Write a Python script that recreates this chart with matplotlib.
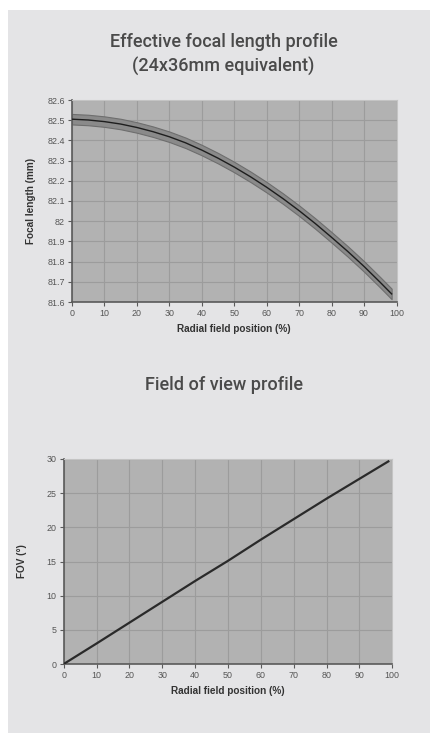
"""Effective focal length and field-of-view profiles across the radial field."""

import matplotlib.pyplot as plt
import numpy as np
from matplotlib import patches
from matplotlib.ticker import FuncFormatter

# focal length profile (24x36mm equivalent)
FIELD_POS = [0, 5, 10, 15, 20, 25, 30, 35, 40, 45, 50, 55, 60, 65, 70, 75, 80, 85, 90, 95, 98.5]
FOCAL_MM = [82.505, 82.501, 82.493, 82.481, 82.464, 82.443, 82.418, 82.388, 82.352, 82.312,
            82.268, 82.220, 82.168, 82.112, 82.052, 81.988, 81.920, 81.850, 81.776, 81.697, 81.640]
FOCAL_SPREAD = 0.026

# field of view profile
FOV_POS = [0, 10, 20, 30, 40, 50, 60, 70, 80, 90, 98.8]
FOV_DEG = [0.0, 3.0, 6.05, 9.1, 12.15, 15.1, 18.2, 21.2, 24.2, 27.1, 29.65]

PANEL_BG = "#E4E4E6"
PLOT_BG = "#B2B2B2"
GRID = "#9C9C9C"
TITLE_COLOR = "#4A4A4A"
TICK_COLOR = "#555555"


def _style_axes(ax, ylim, yticks, xlabel, ylabel, label_pad):
    ax.set_facecolor(PLOT_BG)
    ax.set_xlim(0, 100)
    ax.set_ylim(*ylim)
    ax.set_xticks(np.arange(0, 101, 10))
    ax.set_yticks(yticks)
    ax.yaxis.set_major_formatter(FuncFormatter(lambda v, _: f"{v:g}"))
    ax.grid(True, color=GRID, linewidth=0.8)
    ax.set_axisbelow(True)
    for side in ("top", "right"):
        ax.spines[side].set_color("#C4C4C4")
        ax.spines[side].set_linewidth(0.8)
    for side in ("left", "bottom"):
        ax.spines[side].set_color("#5A5A5A")
        ax.spines[side].set_linewidth(1.2)
    ax.tick_params(direction="out", length=3, width=0.8, color="#5A5A5A",
                   labelsize=6.4, labelcolor=TICK_COLOR, pad=2)
    ax.set_xlabel(xlabel, fontsize=7.2, fontweight="bold", color="#333333",
                  family="Liberation Sans", labelpad=4)
    ax.set_ylabel(ylabel, fontsize=7.2, fontweight="bold", color="#333333",
                  family="Liberation Sans", labelpad=label_pad)
    for lab in ax.get_xticklabels() + ax.get_yticklabels():
        lab.set_family("Liberation Sans")


def main():
    fig = plt.figure(figsize=(4.30, 7.33), dpi=100)
    fig.patch.set_facecolor("white")
    fig.add_artist(patches.Rectangle((8 / 430, 0), 1 - 8 / 430, 1 - 10 / 733,
                                     transform=fig.transFigure, facecolor=PANEL_BG,
                                     edgecolor="none", zorder=-10))

    title_kw = dict(ha="center", va="center", fontsize=13, color=TITLE_COLOR,
                    family="Roboto", fontweight="medium")
    fig.text(0.52, 1 - 42 / 733, "Effective focal length profile", **title_kw)
    fig.text(0.52, 1 - 67 / 733, "(24x36mm equivalent)", **title_kw)
    fig.text(0.52, 1 - 385 / 733, "Field of view profile", **title_kw)

    # focal length chart
    ax1 = fig.add_axes([72 / 430, 1 - 302 / 733, 324.5 / 430, 202 / 733])
    x = np.array(FIELD_POS)
    f = np.array(FOCAL_MM)
    ax1.fill_between(x, f - FOCAL_SPREAD, f + FOCAL_SPREAD, color="#8A8A8A",
                     edgecolor="#6E6E6E", linewidth=0.8, zorder=2)
    ax1.plot(x, f, color="#1E1E1E", linewidth=1.0, zorder=3)
    _style_axes(ax1, (81.6, 82.6), np.round(np.arange(81.6, 82.61, 0.1), 1),
                "Radial field position (%)", "Focal length (mm)", 8)

    # field of view chart
    ax2 = fig.add_axes([63.7 / 430, 1 - 664 / 733, 328.6 / 430, 205 / 733])
    ax2.plot(FOV_POS, FOV_DEG, color="#2A2A2A", linewidth=1.6, zorder=3)
    _style_axes(ax2, (0, 30), np.arange(0, 31, 5),
                "Radial field position (%)", "FOV (°)", 14)

    fig.savefig("out.png", dpi=100, facecolor=fig.get_facecolor())
    plt.close(fig)


if __name__ == "__main__":
    main()
